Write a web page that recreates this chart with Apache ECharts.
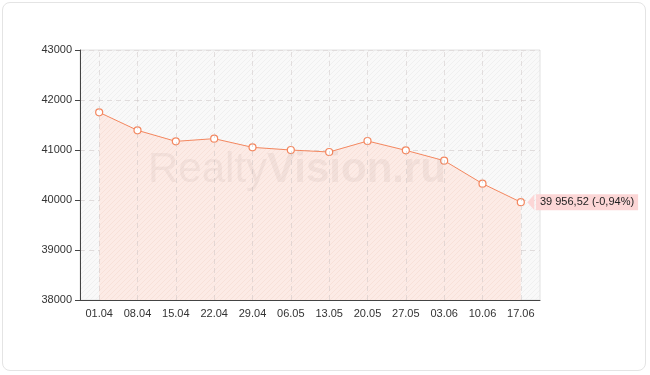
<!DOCTYPE html>
<html>
<head>
<meta charset="utf-8">
<script src="https://cdn.jsdelivr.net/npm/echarts@6/dist/echarts.min.js"></script>
<style>
html,body{margin:0;padding:0;background:#fff;}
#frame{position:absolute;left:2px;top:2px;width:644px;height:369px;border:1px solid #e4e4e4;border-radius:8px;box-sizing:border-box;}
#chart{position:absolute;left:0;top:0;width:650px;height:375px;}
</style>
</head>
<body>
<div id="frame"></div>
<div id="chart"></div>
<script>
const categories = ['01.04','08.04','15.04','22.04','29.04','06.05','13.05','20.05','27.05','03.06','10.06','17.06'];
const values = [41753, 41393, 41173, 41227, 41053, 41000, 40960, 41180, 40993, 40787, 40327, 39956.52];
const yTicks = [38000, 39000, 40000, 41000, 42000, 43000];
const lastLabel = '39 956,52 (-0,94%)';

function makePattern(bg, stripe) {
  const c = document.createElement('canvas');
  c.width = 5; c.height = 5;
  const g = c.getContext('2d');
  g.fillStyle = bg; g.fillRect(0, 0, 5, 5);
  g.strokeStyle = stripe; g.lineWidth = 1;
  g.beginPath();
  g.moveTo(-1, 6); g.lineTo(6, -1);
  g.moveTo(-1, 1); g.lineTo(1, -1);
  g.moveTo(4, 6); g.lineTo(6, 4);
  g.stroke();
  return c;
}

const chart = echarts.init(document.getElementById('chart'), null, {renderer: 'canvas'});
const font = 'Liberation Sans, Arial, sans-serif';
const lastIdx = values.length - 1;

const option = {
  animation: false,
  textStyle: {fontFamily: font},
  grid: {
    left: 80, right: 110, top: 50, bottom: 75,
    show: true,
    backgroundColor: {image: makePattern('#f9f9f9', '#f0f0f0'), repeat: 'repeat'},
    borderColor: '#e2e2e2', borderWidth: 1
  },
  graphic: [{
    type: 'text', left: 148, top: 149, z: 10, silent: true,
    style: {
      rich: {
        a: {fontSize: 42, fontFamily: font, fill: 'rgba(120,100,100,0.075)'},
        b: {fontSize: 42, fontFamily: font, fontWeight: 'bold', fill: 'rgba(120,100,100,0.075)'}
      },
      text: '{a|Realty}{b|Vision.ru}'
    }
  }],
  xAxis: {
    type: 'category',
    data: categories,
    boundaryGap: true,
    axisLine: {lineStyle: {color: '#444', width: 1}},
    axisTick: {alignWithLabel: true, length: 5, lineStyle: {color: '#444'}},
    axisLabel: {color: '#333', fontSize: 11, margin: 8, fontFamily: font},
    splitLine: {show: false}
  },
  yAxis: {
    type: 'value',
    min: yTicks[0], max: yTicks[yTicks.length - 1], interval: 1000,
    axisLine: {show: true, lineStyle: {color: '#444', width: 1}},
    axisTick: {show: true, length: 5, lineStyle: {color: '#444'}},
    axisLabel: {color: '#333', fontSize: 11, margin: 8, fontFamily: font, formatter: v => String(v)},
    splitLine: {show: true, lineStyle: {color: '#e0dcdc', type: [5, 4]}}
  },
  series: [{
    type: 'line',
    data: values.map((v, i) => i === lastIdx ? {
      value: v,
      label: {
        show: true, position: 'right', distance: 11,
        formatter: lastLabel,
        color: '#222', fontSize: 11, fontFamily: font,
        backgroundColor: '#fcd6d6',
        padding: [3, 4, 2, 4]
      }
    } : v),
    symbol: 'circle',
    symbolSize: 7,
    showSymbol: true,
    lineStyle: {color: '#f4875f', width: 1},
    itemStyle: {color: '#ffffff', borderColor: '#f4875f', borderWidth: 1.2},
    areaStyle: {color: {image: makePattern('#fcebe6', '#f8e1d9'), repeat: 'repeat'}, opacity: 1, origin: 'start'},
    z: 3,
    markLine: {
      silent: true,
      symbol: 'none',
      label: {show: false},
      lineStyle: {color: 'rgba(200,190,190,0.45)', type: [5, 4], width: 1},
      data: categories.map(c => ({xAxis: c}))
    },
    markPoint: {
      silent: true,
      data: [{
        coord: [categories[lastIdx], values[lastIdx]],
        symbol: 'triangle', symbolRotate: 90,
        symbolSize: [16, 7],
        symbolOffset: [10, 0],
        itemStyle: {color: '#fcd6d6'},
        label: {show: false}
      }]
    }
  }]
};
chart.setOption(option);
</script>
</body>
</html>
